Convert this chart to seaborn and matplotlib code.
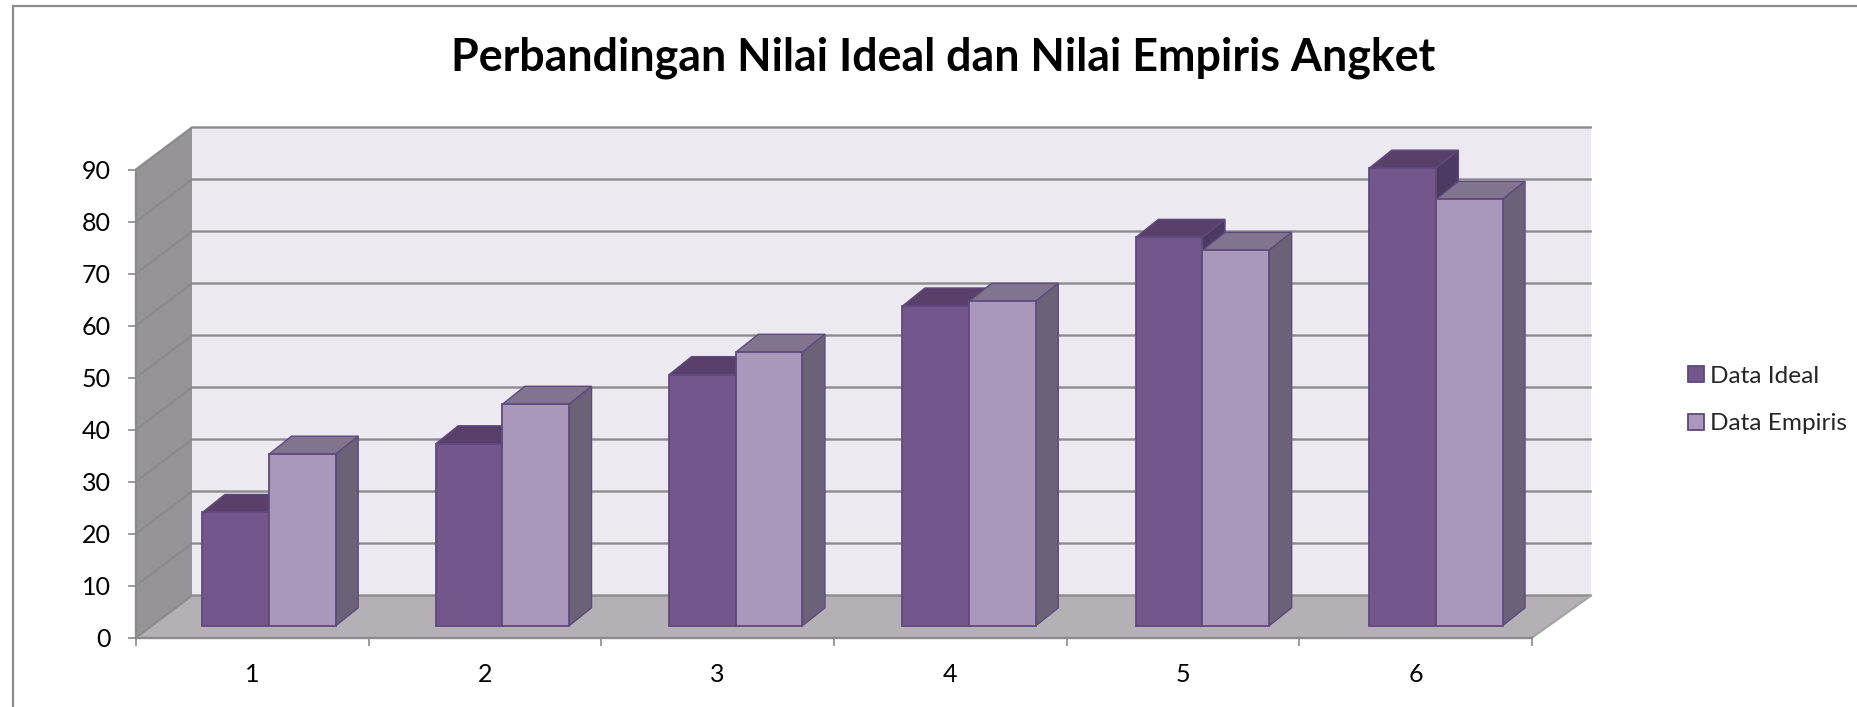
import matplotlib
matplotlib.use("Agg")
import matplotlib.pyplot as plt
from matplotlib.patches import Polygon, Rectangle
import numpy as np
import pandas as pd
import seaborn as sns

# ---- data ----
categories = ["1", "2", "3", "4", "5", "6"]
data_ideal = [21.8, 35.0, 48.3, 61.5, 74.7, 88.0]
data_empiris = [33.0, 42.6, 52.6, 62.4, 72.2, 82.0]
series_names = ["Data Ideal", "Data Empiris"]
title_text = "Perbandingan Nilai Ideal dan Nilai Empiris Angket"
y_ticks = list(range(0, 100, 10))

# ---- styles ----
FONT = ["Lato", "DejaVu Sans"]
C_FRONT = ["#73578C", "#A998BC"]
C_TOP = ["#58406B", "#80748E"]
C_SIDE = ["#4C3A62", "#6B6277"]
C_EDGE = "#5F4A7E"
C_BACK = "#ECE9F1"
C_WALL = "#969498"
C_FLOOR = "#B4B0B5"
C_GRID = "#8B8B8B"

W, H = 1858, 707
AX_L, AX_R, AX_T, AX_B = 136, 1532, 169.5, 637.5   # axes box, pixels
px_x = (AX_R - AX_L) / 6
px_y = (AX_B - AX_T) / 90

# depth offsets, converted from pixels into data units
BACK_DX_L, BACK_DX_R, BACK_DY = 56 / px_x, 59 / px_x, 42 / px_y
BAR_DX0, BAR_DY0 = 16.7 / px_x, 11.7 / px_y
BAR_DX, BAR_DY = 22.5 / px_x, 18 / px_y
BAR_PITCH = 1.003

sns.set_theme(style="white")
plt.rcParams["font.family"] = FONT

fig = plt.figure(figsize=(W / 100, H / 100), dpi=100, facecolor="white")
ax = fig.add_axes([AX_L / W, 1 - AX_B / H, (AX_R - AX_L) / W, (AX_B - AX_T) / H])
ax.patch.set_visible(False)

df = pd.DataFrame({
    "Kategori": categories * 2,
    "Nilai": data_ideal + data_empiris,
    "Seri": [series_names[0]] * 6 + [series_names[1]] * 6,
})
sns.barplot(data=df, x="Kategori", y="Nilai", hue="Seri", order=categories,
            hue_order=series_names, palette=C_FRONT, width=0.573, gap=0,
            edgecolor=C_EDGE, linewidth=1.3, saturation=1, ax=ax, zorder=20)

x0, x1 = -0.5, 5.5
ax.set_xlim(x0, x1)
ax.set_ylim(0, 90)
ax.set_xlabel("")
ax.set_ylabel("")

# walls
bx0, bx1 = x0 + BACK_DX_L, x1 + BACK_DX_R
ax.add_patch(Polygon([(bx0, BACK_DY), (bx1, BACK_DY), (bx1, 90 + BACK_DY), (bx0, 90 + BACK_DY)],
                     fc=C_BACK, ec="none", clip_on=False, zorder=1))
ax.add_patch(Polygon([(x0, 0), (bx0, BACK_DY), (bx0, 90 + BACK_DY), (x0, 90)],
                     fc=C_WALL, ec="none", clip_on=False, zorder=2))
ax.add_patch(Polygon([(x0, 0), (x1, 0), (bx1, BACK_DY), (bx0, BACK_DY)],
                     fc=C_FLOOR, ec="none", clip_on=False, zorder=2))
for v in y_ticks:
    ax.plot([x0, bx0, bx1], [v, v + BACK_DY, v + BACK_DY], color=C_GRID, lw=1.7,
            clip_on=False, zorder=3, solid_joinstyle="miter")
ax.plot([x1, bx1], [0, BACK_DY], color="#A5A5A5", lw=1.7, clip_on=False, zorder=3)

# 3-D faces of the bars, derived from the seaborn bars
for s, cont in enumerate(ax.containers):
    for i, bar in enumerate(cont.patches):
        left = bar.get_x() + BAR_DX0 + (BAR_PITCH - 1) * i
        w = bar.get_width()
        h = bar.get_height()
        bar.set_x(left)
        bar.set_y(BAR_DY0)
        bar.set_clip_on(False)
        base_z = 10 + i * 3 + s * 1.5
        bar.set_zorder(base_z + 1)
        top = BAR_DY0 + h
        ax.add_patch(Polygon([(left, top), (left + w, top), (left + w + BAR_DX, top + BAR_DY),
                              (left + BAR_DX, top + BAR_DY)],
                             fc=C_TOP[s], ec=C_EDGE, lw=1.0, clip_on=False, zorder=base_z))
        ax.add_patch(Polygon([(left + w, BAR_DY0), (left + w + BAR_DX, BAR_DY0 + BAR_DY),
                              (left + w + BAR_DX, top + BAR_DY), (left + w, top)],
                             fc=C_SIDE[s], ec=C_EDGE, lw=1.0, clip_on=False, zorder=base_z))

# axes
sns.despine(ax=ax, top=True, right=True)
for name in ("left", "bottom"):
    ax.spines[name].set_color(C_GRID)
    ax.spines[name].set_linewidth(1.7)
    ax.spines[name].set_zorder(4)
ax.set_yticks(y_ticks)
ax.tick_params(axis="y", which="major", direction="out", length=6, width=1.2, color=C_GRID,
               left=True, labelsize=18, labelcolor="black", pad=12)
ax.set_xticks(np.arange(x0, x1 + 0.5), labels=[""] * 7)
ax.set_xticks(np.arange(6), labels=categories, minor=True)
ax.tick_params(axis="x", which="major", direction="out", length=5.5, width=1.2, color=C_GRID, bottom=True)
ax.tick_params(axis="x", which="minor", length=0, labelsize=18, labelcolor="black", pad=18, bottom=False)

# legend
handles, labels = ax.get_legend_handles_labels()
ax.get_legend().remove()
fig.legend(handles, labels, loc="center left", bbox_to_anchor=(1688 / W, 1 - 400 / H),
           frameon=False, fontsize=17.6, handlelength=0.64, handleheight=0.64,
           handletextpad=0.26, labelspacing=1.08, borderpad=0, borderaxespad=0)

# title and chart frame
fig.text(943.5 / W, 1 - 58 / H, title_text, ha="center", va="center", fontsize=32.2,
         fontweight="bold", color="black")
fig.add_artist(Rectangle((13.5 / W, -0.05), 1.1, 1 - 5.5 / H + 0.05, transform=fig.transFigure,
                         fc="none", ec="#8C8C8C", lw=1.6, zorder=0))

fig.savefig("out.png", dpi=100, facecolor="white")
